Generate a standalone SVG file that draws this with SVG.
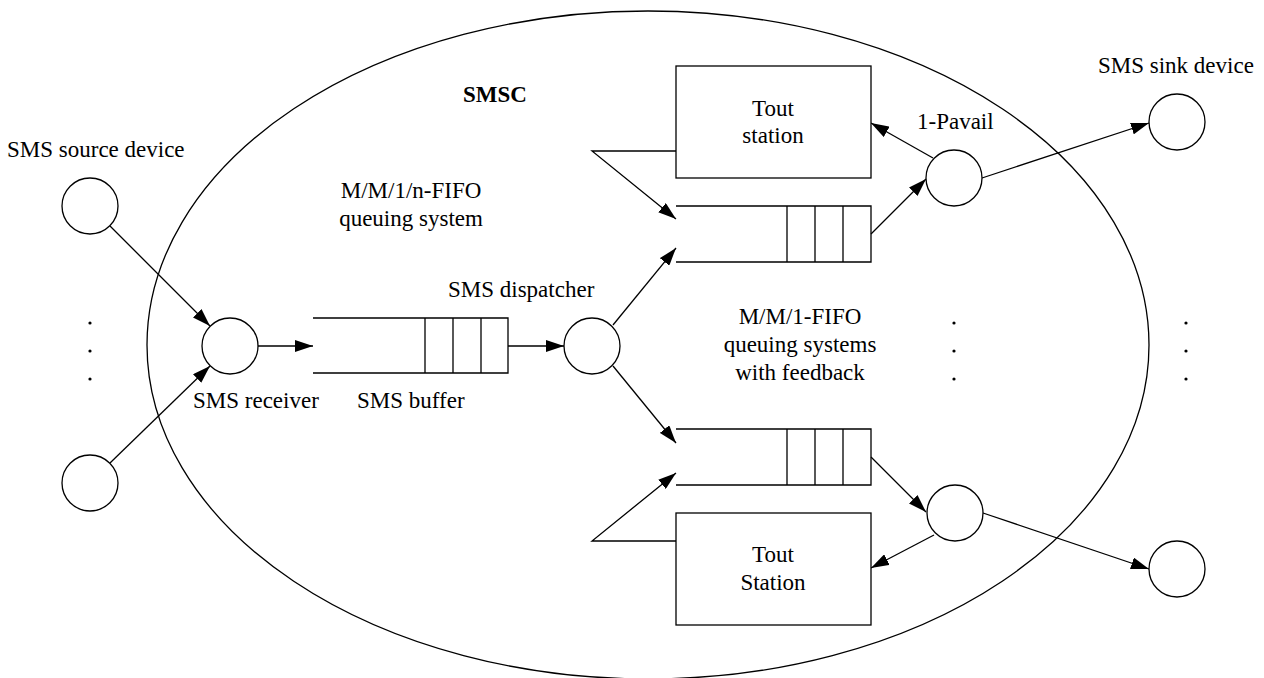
<svg xmlns="http://www.w3.org/2000/svg" width="1264" height="678" viewBox="0 0 1264 678">
<defs>
<marker id="arr" markerWidth="18" markerHeight="12" refX="18" refY="6" orient="auto" markerUnits="userSpaceOnUse">
<path d="M0,0 L18,6 L0,12 z" fill="#000"/>
</marker>
<style>
.ln{fill:none;stroke:#000;stroke-width:1.3}
.nd{fill:#fff;stroke:#000;stroke-width:1.3}
.t{font-family:"Liberation Serif","Times New Roman",serif;font-size:23px;fill:#000}
.c{text-anchor:middle}
.dot{fill:#000}
</style>
</defs>
<rect width="1264" height="678" fill="#fff"/>
<g id="smsc">
<ellipse cx="648" cy="345" rx="501" ry="334" class="ln"/>
<text x="463" y="102" class="t" font-weight="bold">SMSC</text>
<text x="411" y="198" class="t c">M/M/1/n-FIFO</text>
<text x="411" y="226" class="t c">queuing system</text>
<text x="800" y="324" class="t c">M/M/1-FIFO</text>
<text x="800" y="352" class="t c">queuing systems</text>
<text x="800" y="380" class="t c">with feedback</text>
</g>
<g id="connectors">
<line x1="110" y1="226" x2="210" y2="326" class="ln" marker-end="url(#arr)"/>
<line x1="110" y1="463" x2="210" y2="366" class="ln" marker-end="url(#arr)"/>
<line x1="258" y1="346" x2="313" y2="346" class="ln" marker-end="url(#arr)"/>
<line x1="508" y1="346" x2="564" y2="346" class="ln" marker-end="url(#arr)"/>
<line x1="613" y1="325" x2="676" y2="248" class="ln" marker-end="url(#arr)"/>
<line x1="613" y1="366" x2="676" y2="443" class="ln" marker-end="url(#arr)"/>
<polyline points="676,151 592,151 676,219" class="ln" marker-end="url(#arr)"/>
<polyline points="676,541 592,541 676,473" class="ln" marker-end="url(#arr)"/>
<line x1="871" y1="234" x2="926" y2="179" class="ln" marker-end="url(#arr)"/>
<line x1="933" y1="158" x2="871" y2="123" class="ln" marker-end="url(#arr)"/>
<line x1="982" y1="178" x2="1149" y2="123" class="ln" marker-end="url(#arr)"/>
<line x1="871" y1="457" x2="926" y2="512" class="ln" marker-end="url(#arr)"/>
<line x1="934" y1="535" x2="871" y2="568" class="ln" marker-end="url(#arr)"/>
<line x1="983" y1="513" x2="1149" y2="569" class="ln" marker-end="url(#arr)"/>
</g>
<g id="source1"><circle cx="90" cy="206" r="28" class="nd"/><text x="7" y="157" class="t">SMS source device</text></g>
<g id="source2"><circle cx="90" cy="483" r="28" class="nd"/></g>
<g id="source-dots"><circle cx="90" cy="323" r="1.6" class="dot"/><circle cx="90" cy="351" r="1.6" class="dot"/><circle cx="90" cy="379" r="1.6" class="dot"/></g>
<g id="receiver"><circle cx="230" cy="346" r="28" class="nd"/><text x="193" y="408" class="t">SMS receiver</text></g>
<g id="buffer">
<path d="M313,318 H508 V373 H313 M425,318 V373 M453,318 V373 M481,318 V373" class="ln"/>
<text x="357" y="408" class="t">SMS buffer</text>
</g>
<g id="dispatcher"><circle cx="592" cy="346" r="28" class="nd"/><text x="448" y="297" class="t">SMS dispatcher</text></g>
<g id="queue-top"><path d="M676,206 H871 V262 H676 M787,206 V262 M815,206 V262 M843,206 V262" class="ln"/></g>
<g id="tout-top"><rect x="676" y="66" width="195" height="112" class="nd"/><text x="773" y="116" class="t c">Tout</text><text x="773" y="143" class="t c">station</text></g>
<g id="server-top"><circle cx="954" cy="178" r="28" class="nd"/><text x="917" y="129" class="t">1-Pavail</text></g>
<g id="sink-top"><circle cx="1177" cy="122" r="28" class="nd"/><text x="1098" y="73" class="t">SMS sink device</text></g>
<g id="queue-bottom"><path d="M676,429 H871 V485 H676 M787,429 V485 M815,429 V485 M843,429 V485" class="ln"/></g>
<g id="tout-bottom"><rect x="676" y="513" width="195" height="112" class="nd"/><text x="773" y="562" class="t c">Tout</text><text x="773" y="590" class="t c">Station</text></g>
<g id="server-bottom"><circle cx="955" cy="513" r="28" class="nd"/></g>
<g id="sink-bottom"><circle cx="1177" cy="569" r="28" class="nd"/></g>
<g id="mid-dots"><circle cx="954" cy="323" r="1.6" class="dot"/><circle cx="954" cy="351" r="1.6" class="dot"/><circle cx="954" cy="379" r="1.6" class="dot"/></g>
<g id="right-dots"><circle cx="1186" cy="323" r="1.6" class="dot"/><circle cx="1186" cy="351" r="1.6" class="dot"/><circle cx="1186" cy="379" r="1.6" class="dot"/></g>
</svg>
